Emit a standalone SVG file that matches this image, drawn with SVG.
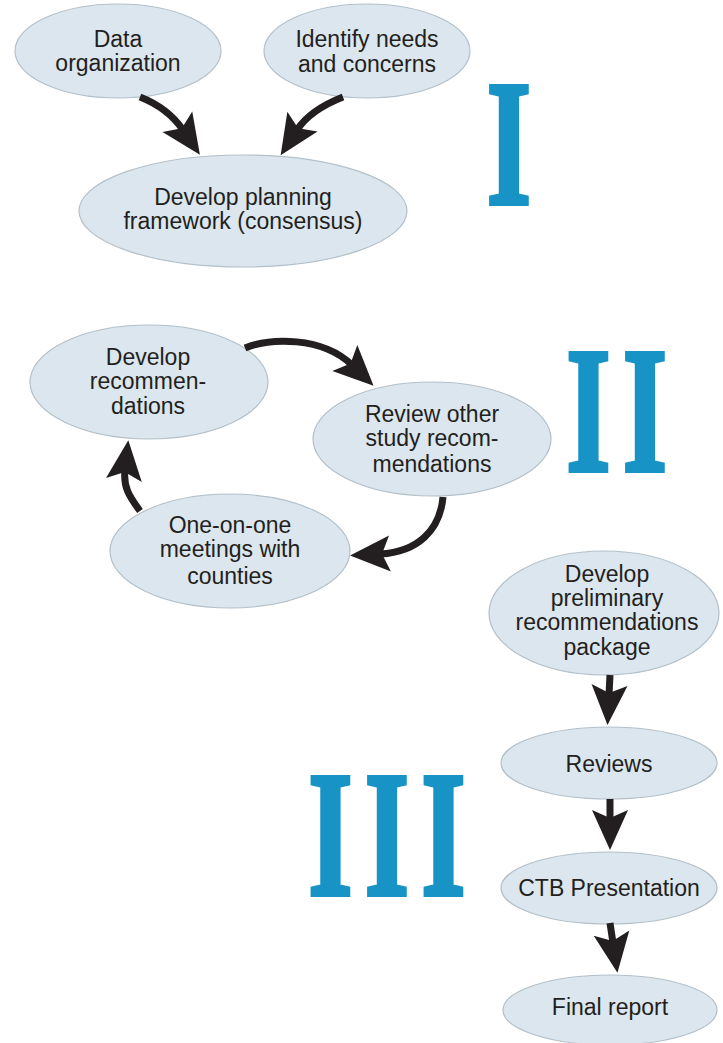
<svg xmlns="http://www.w3.org/2000/svg" width="723" height="1043" viewBox="0 0 723 1043">
<style>
.node ellipse{fill:#dbe6ee;stroke:#b3c0c9;stroke-width:1.2}
.node text{font-family:"Liberation Sans",Arial,sans-serif;font-size:23px;fill:#231f20;text-anchor:middle}
.num{font-family:"Liberation Serif","Times New Roman",serif;font-weight:bold;font-size:180px;fill:#1793c6;stroke:#1793c6;stroke-width:4;stroke-linejoin:miter;text-anchor:middle}
.conn path{fill:none;stroke:#231f20;stroke-width:7;marker-end:url(#ah)}
</style>
<defs>
<marker id="ah" markerUnits="userSpaceOnUse" viewBox="0 -20 42 40" markerWidth="42" markerHeight="40" refX="10" refY="0" orient="auto">
<path d="M0,-18 L40,0 L0,18 L8,0 Z" fill="#231f20"/>
</marker>
</defs>
<rect width="723" height="1043" fill="#ffffff"/>

<g id="numeral-I"><text class="num" transform="translate(0,204) scale(0.64,1)"><tspan x="795.3">I</tspan></text></g>
<g id="numeral-II"><text class="num" transform="translate(0,471) scale(0.64,1)"><tspan x="919.5">I</tspan><tspan x="1007.8">I</tspan></text></g>
<g id="numeral-III"><text class="num" transform="translate(0,895) scale(0.64,1)"><tspan x="516.4">I</tspan><tspan x="604.7">I</tspan><tspan x="693">I</tspan></text></g>

<g id="n-data" class="node"><ellipse cx="118" cy="51" rx="103" ry="47"/><text x="118" y="47">Data</text><text x="118" y="71">organization</text></g>
<g id="n-identify" class="node"><ellipse cx="367" cy="51" rx="103" ry="47"/><text x="367" y="47">Identify needs</text><text x="367" y="72">and concerns</text></g>
<g id="n-framework" class="node"><ellipse cx="243" cy="211" rx="164" ry="56"/><text x="243" y="205">Develop planning</text><text x="243" y="229">framework (consensus)</text></g>

<g id="n-devrec" class="node"><ellipse cx="149" cy="382" rx="119" ry="57"/><text x="148" y="365">Develop</text><text x="148" y="389">recommen-</text><text x="148" y="414">dations</text></g>
<g id="n-review" class="node"><ellipse cx="432" cy="439" rx="119" ry="57"/><text x="432" y="422">Review other</text><text x="432" y="446">study recom-</text><text x="432" y="472">mendations</text></g>
<g id="n-meet" class="node"><ellipse cx="230" cy="551" rx="120" ry="57"/><text x="230" y="533">One-on-one</text><text x="230" y="557">meetings with</text><text x="230" y="584">counties</text></g>

<g id="n-prelim" class="node"><ellipse cx="604" cy="613" rx="115" ry="62"/><text x="607" y="582">Develop</text><text x="607" y="606">preliminary</text><text x="607" y="630">recommendations</text><text x="607" y="655">package</text></g>
<g id="n-reviews" class="node"><ellipse cx="609" cy="763" rx="108" ry="36"/><text x="609" y="772">Reviews</text></g>
<g id="n-ctb" class="node"><ellipse cx="609" cy="888" rx="108" ry="36"/><text x="609" y="896">CTB Presentation</text></g>
<g id="n-final" class="node"><ellipse cx="610" cy="1010" rx="107" ry="35"/><text x="610" y="1015">Final report</text></g>

<g id="connectors" class="conn">
<path d="M140,97 Q168,108 183,130"/>
<path d="M343,97 Q310,110 297,130"/>
<path d="M245,348 C270,338 322,336 352,365"/>
<path d="M443,497 C440,530 418,552 380,554"/>
<path d="M140,511 C130,497 123,488 125,470"/>
<path d="M610,675 L609,695"/>
<path d="M610,799 L610,820"/>
<path d="M610,923 L613,943"/>
</g>
</svg>
